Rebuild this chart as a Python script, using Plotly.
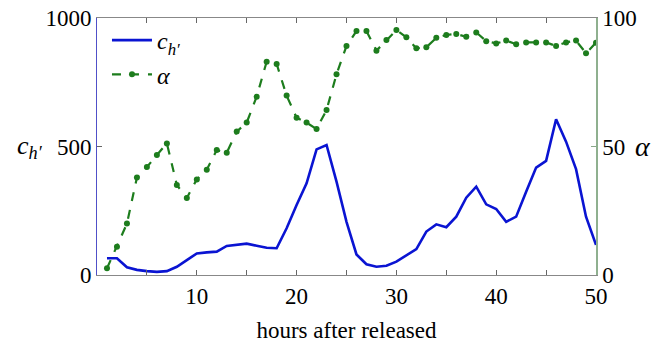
import plotly.graph_objects as go

hours = list(range(1, 51))
c_h = [65, 65, 30, 20, 15, 12, 15, 32, 58, 84,
       88, 91, 113, 117, 122, 114, 106, 104, 182, 272,
       357, 489, 506, 363, 207, 80, 42, 32, 36, 52,
       75, 101, 169, 197, 186, 227, 301, 344, 275, 257,
       207, 227, 324, 418, 444, 606, 519, 412, 227, 117]
alpha = [2.6, 11, 20, 37.9, 42, 46.7, 51.2, 35, 30, 37.2,
         41, 48.6, 47.6, 55.8, 59.3, 69.4, 83, 82.1, 69.8, 61.2,
         59.3, 56.8, 64.2, 78.1, 89.1, 94.9, 94.9, 87.3, 91.4, 95.3,
         92.5, 88.2, 88.6, 92.3, 93.4, 93.8, 92.7, 94.4, 91, 90.1,
         91.2, 89.8, 90.5, 90.5, 90.5, 89.1, 90.5, 91.2, 86.3, 90.4]
x_ticks = [5, 10, 15, 20, 25, 30, 35, 40, 45, 50]
x_ticktext = ["", "10", "", "20", "", "30", "", "40", "", "50"]

SERIF = "Liberation Serif, Times New Roman, serif"
BLUE = "#0a14d2"
GREEN = "#1d7d1d"

fig = go.Figure()
fig.add_trace(go.Scatter(
    x=hours, y=c_h, mode="lines", name="<i>c</i><sub><i>h′</i></sub>",
    line=dict(color=BLUE, width=2.6), yaxis="y"))
fig.add_trace(go.Scatter(
    x=hours, y=alpha, mode="lines+markers", name="<i>α</i>",
    line=dict(color=GREEN, width=2.2, dash="dash"),
    marker=dict(color=GREEN, size=6, symbol="circle"), yaxis="y2"))

fig.update_layout(
    width=659, height=343,
    margin=dict(l=97, r=63, t=18, b=68, autoexpand=False),
    paper_bgcolor="white", plot_bgcolor="white",
    font=dict(family=SERIF, size=23, color="black"),
    showlegend=True,
    legend=dict(x=0.02, y=1.0, xanchor="left", yanchor="top",
                bgcolor="rgba(0,0,0,0)", font=dict(size=24, family=SERIF),
                tracegroupgap=0, itemwidth=40),
    xaxis=dict(range=[0, 50], tickvals=x_ticks, ticktext=x_ticktext,
               ticks="inside", ticklen=5, tickcolor="#666", automargin=False,
               showline=True, linecolor="#888", linewidth=1, mirror="ticks",
               showgrid=False, zeroline=False,
               title=dict(text="hours after released", font=dict(size=23), standoff=14)),
    yaxis=dict(range=[0, 1000], tickvals=[0, 500, 1000], automargin=False,
               ticks="inside", ticklen=5, tickcolor="#666",
               showline=True, linecolor="#5050c8", linewidth=1,
               showgrid=False, zeroline=False),
    yaxis2=dict(range=[0, 100], tickvals=[0, 50, 100], overlaying="y", side="right",
                ticks="inside", ticklen=5, tickcolor="#8aa88a", automargin=False,
                showline=True, linecolor="#8fb08f", linewidth=1.5,
                showgrid=False, zeroline=False),
    annotations=[
        dict(text="<i>c</i><sub><i>h′</i></sub>", xref="paper", yref="paper",
             x=-0.135, y=0.5, xanchor="center", yanchor="middle",
             showarrow=False, font=dict(size=26, family=SERIF)),
        dict(text="<i>α</i>", xref="paper", yref="paper",
             x=1.094, y=0.5, xanchor="center", yanchor="middle",
             showarrow=False, font=dict(size=28, family=SERIF)),
    ],
)

fig.write_html("out.html")
